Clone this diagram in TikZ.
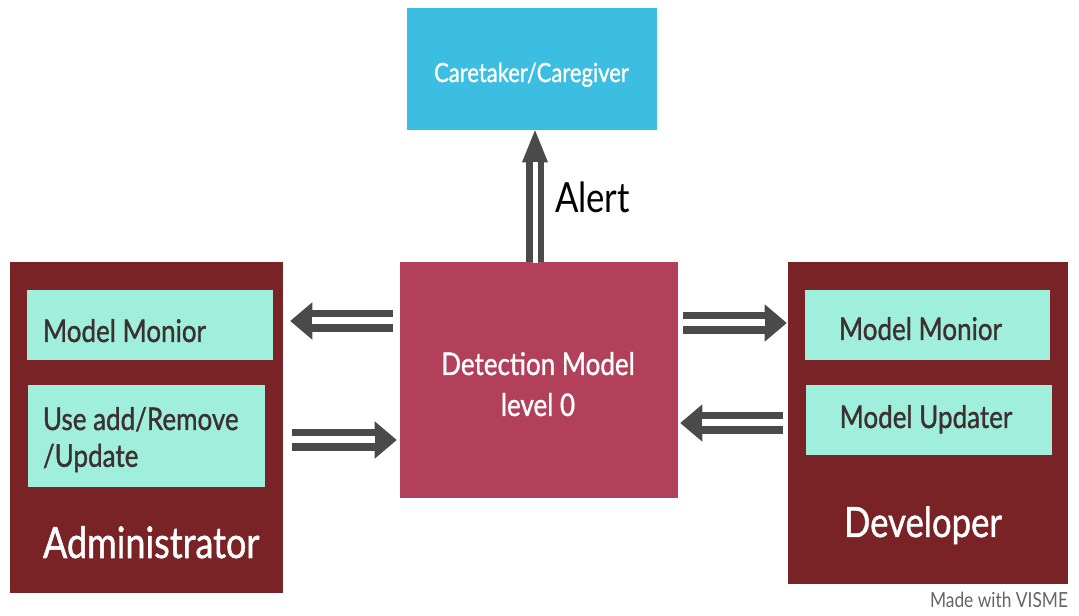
\documentclass[tikz,border=0pt]{standalone}
\usepackage{fontspec}
\setmainfont{Lato}
\newfontfamily\boxfont[FakeBold=1.2]{Lato}
\usepackage{graphicx}
\usetikzlibrary{fit,arrows.meta}

\definecolor{skyblue}{RGB}{59,190,226}
\definecolor{detred}{RGB}{178,64,90}
\definecolor{roledark}{RGB}{122,35,38}
\definecolor{mint}{RGB}{160,238,220}
\definecolor{arrowgray}{RGB}{74,74,74}
\definecolor{innertext}{RGB}{60,48,48}
\definecolor{notegray}{RGB}{100,100,100}

% text set slightly taller than wide
\newcommand{\tallt}[1]{\scalebox{1}[1.2]{#1}}

\tikzset{
  box/.style={inner sep=0pt, draw=none},
  txt/.style={inner sep=0pt, outer sep=0pt},
  % two parallel bars with a solid head: a thick shaft, split by a white core
  harrow/.style 2 args={draw=arrowgray, line width=17pt,
    shorten <=#1, shorten >=#2,
    -{Triangle[length=16.5pt, width=28pt, line width=0pt]},
    postaction={draw=white, line width=5.25pt, -, shorten <=#1-1pt, shorten >=#2+16.5pt}},
  varrow/.style 2 args={draw=arrowgray, line width=14pt,
    shorten <=#1, shorten >=#2,
    -{Triangle[length=24pt, width=19.5pt, line width=0pt]},
    postaction={draw=white, line width=3.75pt, -, shorten <=#1-1pt, shorten >=#2+24pt}},
}

\begin{document}
\begin{tikzpicture}[x=0.75pt, y=-0.75pt]
  \fill[white] (0,0) rectangle (1079,616);
  \useasboundingbox (0,0) rectangle (1079,616);

  % blocks
  \node[box, fill=skyblue, fit={(407,8) (657,130)}] (car) {};
  \node[box, fill=detred, fit={(400,262) (678,498)}] (det) {};
  \node[box, fill=roledark, fit={(10,262) (283,593)}] (adm) {};
  \node[box, fill=mint, fit={(27,290) (273,360)}] (am) {};
  \node[box, fill=mint, fit={(28,385) (265,487)}] (au) {};
  \node[box, fill=roledark, fit={(788,262) (1068,584)}] (dev) {};
  \node[box, fill=mint, fit={(805,290) (1050,360)}] (dm) {};
  \node[box, fill=mint, fit={(806,385) (1052,455)}] (du) {};

  % labels
  \node[txt, anchor=base, text=white, font=\boxfont\fontsize{16.5pt}{20pt}\selectfont]
    (cartext) at (531.5,82) {\tallt{Caretaker/Caregiver}};
  \node[txt, anchor=base west, text=black, font=\fontsize{26pt}{30pt}\selectfont]
    (alert) at (555,213) {\tallt{Alert}};
  \node[txt, anchor=base, text=white, font=\boxfont\fontsize{19.5pt}{25.6pt}\selectfont]
    (dettext) at (538,375) {\tallt{\begin{tabular}[t]{@{}c@{}}Detection Model\\level 0\end{tabular}}};
  \node[txt, anchor=base west, text=innertext, font=\boxfont\fontsize{19.5pt}{23pt}\selectfont]
    (amtext) at (43,342) {\tallt{Model Monior}};
  \node[txt, anchor=base west, text=innertext, font=\boxfont\fontsize{19.5pt}{23pt}\selectfont]
    (autext) at (43,430) {\tallt{\begin{tabular}[t]{@{}l@{}}Use add/Remove\\/Update\end{tabular}}};
  \node[txt, anchor=base west, text=white, font=\boxfont\fontsize{27pt}{30pt}\selectfont]
    (admtext) at (43,558) {\tallt{Administrator}};
  \node[txt, anchor=base, text=innertext, font=\boxfont\fontsize{19.5pt}{23pt}\selectfont]
    (dmtext) at (920.5,340) {\tallt{Model Monior}};
  \node[txt, anchor=base, text=innertext, font=\boxfont\fontsize{19.5pt}{23pt}\selectfont]
    (dutext) at (926,428) {\tallt{Model Updater}};
  \node[txt, anchor=base, text=white, font=\boxfont\fontsize{26pt}{30pt}\selectfont]
    (devtext) at (923,537) {\tallt{Developer}};
  \node[txt, anchor=base east, text=notegray, font=\fontsize{13pt}{15pt}\selectfont]
    (note) at (1068,608) {\tallt{Made with VISME}};

  % flows
  \draw[varrow={0pt}{0pt}] ([xshift=-3pt]det.north) -- ([xshift=-3pt]det.north |- car.south);
  \draw[harrow={5.25pt}{5.25pt}]
    ([yshift=3pt]det.west |- am.east) -- ([yshift=3pt]adm.east |- am.east);
  \draw[harrow={6.75pt}{2.25pt}]
    ([yshift=-3pt]adm.east |- au.east) -- ([yshift=-3pt]det.west |- au.east);
  \draw[harrow={3.75pt}{0.75pt}]
    ([yshift=1.5pt]det.east |- dm.west) -- ([yshift=1.5pt]dev.west |- dm.west);
  \draw[harrow={3.75pt}{1.5pt}]
    ([yshift=-2.25pt]dev.west |- du.west) -- ([yshift=-2.25pt]det.east |- du.west);
\end{tikzpicture}
\end{document}
